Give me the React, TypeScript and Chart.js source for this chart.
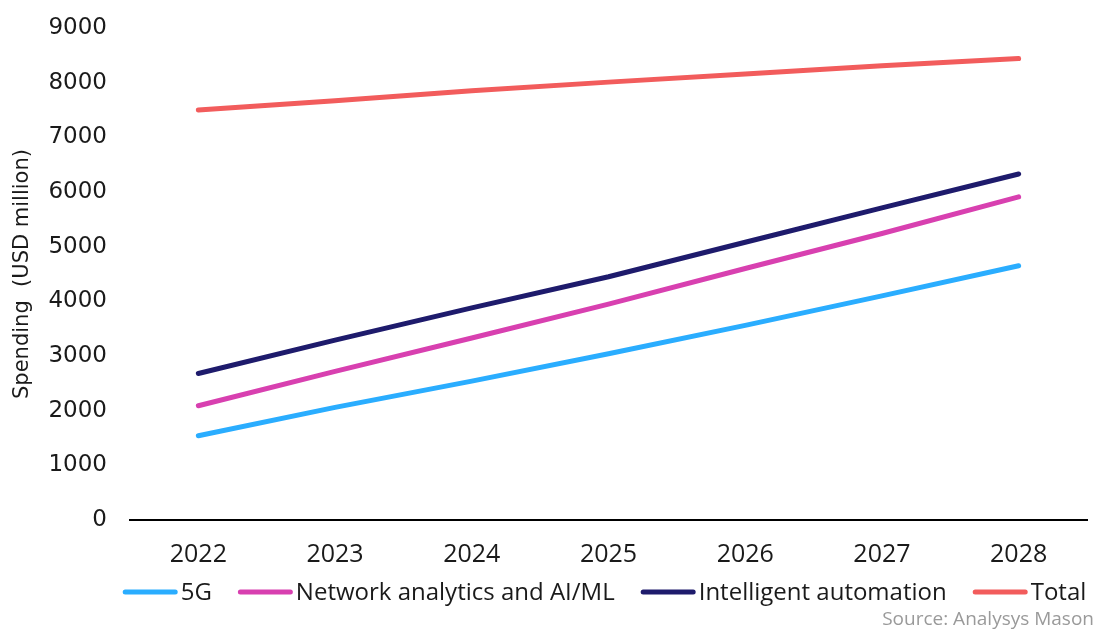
import React, { useEffect, useRef } from "react";
import { Chart, registerables } from "chart.js";

Chart.register(...registerables);

const years = ["2022", "2023", "2024", "2025", "2026", "2027", "2028"];
const fiveG = [1540, 2060, 2540, 3040, 3560, 4100, 4650];
const networkAnalytics = [2090, 2720, 3330, 3950, 4600, 5240, 5910];
const intelligentAutomation = [2680, 3290, 3880, 4450, 5080, 5710, 6330];
const total = [7500, 7670, 7850, 8010, 8160, 8310, 8440];
const seriesNames = ["5G", "Network analytics and AI/ML", "Intelligent automation", "Total"];
const seriesColors = ["#2AADFF", "#D840B0", "#1E1B6C", "#F25C5C"];
const yTicks = [0, 1000, 2000, 3000, 4000, 5000, 6000, 7000, 8000, 9000];
const yTitle = "Spending  (USD million)";
const sourceText = "Source: Analysys Mason";

const legendPlugin = {
  id: "customLegend",
  afterDraw(chart: any) {
    const ctx = chart.ctx;
    const area = chart.chartArea;
    const lineLen = 55;
    const gapLineText = 3;
    const gapItems = 26;
    ctx.save();
    ctx.font = "24px 'Open Sans'";
    const items = chart.data.datasets.map((d: any) => ({
      label: d.label,
      color: d.borderColor,
      w: ctx.measureText(d.label).width,
    }));
    let totalW = 0;
    items.forEach((it: any, i: number) => {
      totalW += lineLen + gapLineText + it.w + (i < items.length - 1 ? gapItems : 0);
    });
    let x = (area.left + area.right) / 2 - totalW / 2 - 4;
    const y = 592;
    items.forEach((it: any) => {
      ctx.beginPath();
      ctx.strokeStyle = it.color;
      ctx.lineWidth = 5;
      ctx.lineCap = "round";
      ctx.moveTo(x + 2.5, y);
      ctx.lineTo(x + lineLen - 2.5, y);
      ctx.stroke();
      x += lineLen + gapLineText;
      ctx.fillStyle = "#1a1a1a";
      ctx.textAlign = "left";
      ctx.textBaseline = "middle";
      ctx.fillText(it.label, x, y + 1);
      x += it.w + gapItems;
    });
    ctx.font = "19px 'Open Sans'";
    ctx.fillStyle = "#9a9a9a";
    ctx.textAlign = "right";
    ctx.textBaseline = "middle";
    ctx.fillText(sourceText, chart.width - 1, 620);
    ctx.restore();
  },
};

export default function App() {
  const ref = useRef<HTMLCanvasElement>(null);
  useEffect(() => {
    document.body.style.margin = "0";
    const values = [fiveG, networkAnalytics, intelligentAutomation, total];
    const chart = new Chart(ref.current as HTMLCanvasElement, {
      type: "line",
      data: {
        labels: years,
        datasets: values.map((v, i) => ({
          label: seriesNames[i],
          data: v,
          borderColor: seriesColors[i],
          backgroundColor: seriesColors[i],
          borderWidth: 5,
          borderCapStyle: "round",
          borderJoinStyle: "round",
          pointRadius: 0,
          tension: 0,
          fill: false,
        })),
      },
      options: {
        animation: false,
        responsive: false,
        maintainAspectRatio: false,
        layout: { padding: { left: 6, right: 8, top: 28, bottom: 64 } },
        plugins: {
          legend: { display: false },
          tooltip: { enabled: false },
        },
        scales: {
          x: {
            offset: true,
            grid: { display: false, drawTicks: false, offset: true },
            border: { display: true, color: "#000", width: 2 },
            ticks: {
              font: { family: "'Open Sans'", size: 25 },
              color: "#1a1a1a",
              padding: 20,
            },
            afterFit: (s: any) => {
              s.height = 45;
            },
          },
          y: {
            min: 0,
            max: 9000,
            afterBuildTicks: (s: any) => {
              s.ticks = yTicks.map((v) => ({ value: v }));
            },
            grid: { display: false, drawTicks: false },
            border: { display: false },
            ticks: {
              font: { family: "'DejaVu Sans'", size: 23 },
              color: "#1a1a1a",
              padding: 23,
              callback: (v: any) => String(v),
            },
            title: {
              display: true,
              text: yTitle,
              font: { family: "'DejaVu Sans'", size: 21 },
              color: "#1a1a1a",
              padding: { top: 4, bottom: 4 },
            },
            afterFit: (s: any) => {
              s.width = 124;
              s.paddingTop = 0;
              s.paddingBottom = 0;
            },
          },
        },
      },
      plugins: [legendPlugin],
    });
    return () => chart.destroy();
  }, []);
  return (
    <div style={{ width: 1095, height: 629 }}>
      <canvas ref={ref} width={1095} height={629} style={{ display: "block" }} />
    </div>
  );
}
